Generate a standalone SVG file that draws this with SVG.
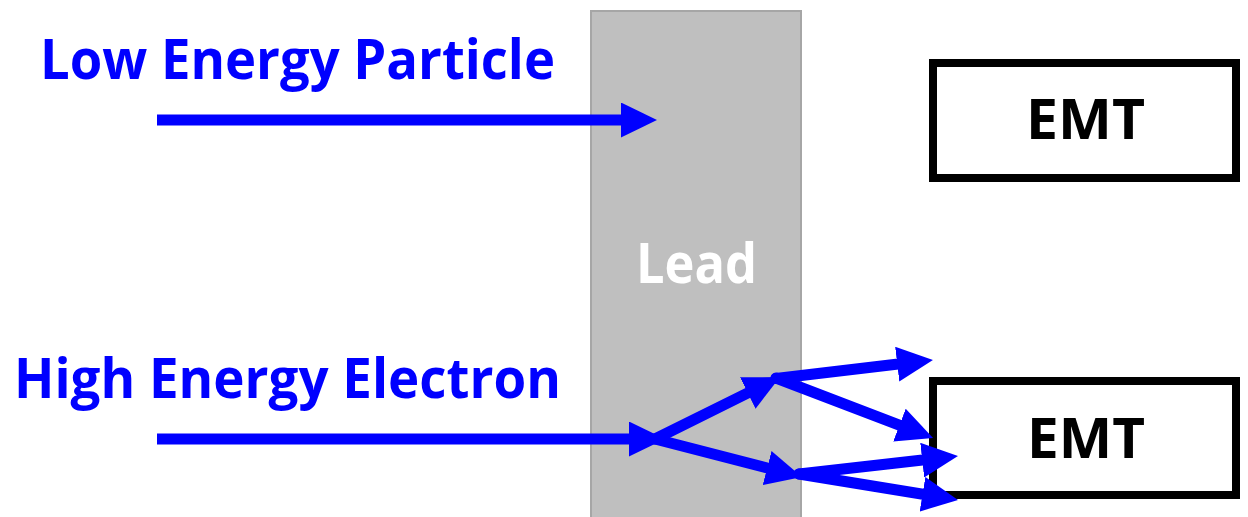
<svg xmlns="http://www.w3.org/2000/svg" width="1248" height="517" viewBox="0 0 1248 517">
  <style>
    .lbl { font-family: "Open Sans", "Liberation Sans", sans-serif; font-weight: bold; font-size: 56px; }
    .blue { fill: #0000ff; }
    .emt-box { fill: #ffffff; stroke: #000000; stroke-width: 8; }
    .emt-txt { fill: #000000; }
    .arrow { stroke: #0000ff; stroke-width: 11; fill: none; marker-end: url(#ah); }
    .branch { stroke-linecap: round; }
  </style>
  <defs>
    <marker id="ah" markerUnits="userSpaceOnUse" viewBox="0 0 36 35" markerWidth="36" markerHeight="35" refX="16" refY="17.5" orient="auto">
      <path d="M0,0 L36,17.5 L0,35 Z" fill="#0000ff"/>
    </marker>
  </defs>
  <rect width="1248" height="517" fill="#ffffff"/>

  <g id="lead">
    <rect x="591" y="11" width="210" height="520" fill="#bfbfbf" stroke="#a6a6a6" stroke-width="2"/>
    <text class="lbl" x="636" y="283" fill="#ffffff" textLength="121" lengthAdjust="spacingAndGlyphs">Lead</text>
  </g>

  <g id="emt-top">
    <rect class="emt-box" x="933" y="63" width="303" height="115"/>
    <text class="lbl emt-txt" x="1026" y="139" textLength="119" lengthAdjust="spacingAndGlyphs">EMT</text>
  </g>

  <g id="emt-bottom">
    <rect class="emt-box" x="933" y="381" width="303" height="114"/>
    <text class="lbl emt-txt" x="1027" y="458" textLength="118" lengthAdjust="spacingAndGlyphs">EMT</text>
  </g>

  <g id="label-low">
    <text class="lbl blue" x="40" y="79" textLength="515" lengthAdjust="spacingAndGlyphs">Low Energy Particle</text>
  </g>

  <g id="label-high">
    <text class="lbl blue" x="14" y="398" textLength="547" lengthAdjust="spacingAndGlyphs">High Energy Electron</text>
  </g>

  <g id="connectors">
    <line class="arrow" x1="157" y1="120" x2="637" y2="120"/>
    <line class="arrow" x1="157" y1="439" x2="645" y2="439"/>
    <line class="arrow branch" x1="655" y1="439" x2="762.1" y2="385.9"/>
    <line class="arrow branch" x1="655" y1="439" x2="782.6" y2="472"/>
    <line class="arrow branch" x1="776" y1="378.5" x2="913.1" y2="362.3"/>
    <line class="arrow branch" x1="776" y1="378" x2="914.4" y2="430.8"/>
    <line class="arrow branch" x1="799" y1="474" x2="938.1" y2="458.3"/>
    <line class="arrow branch" x1="799" y1="474" x2="938.3" y2="496.8"/>
  </g>
</svg>
